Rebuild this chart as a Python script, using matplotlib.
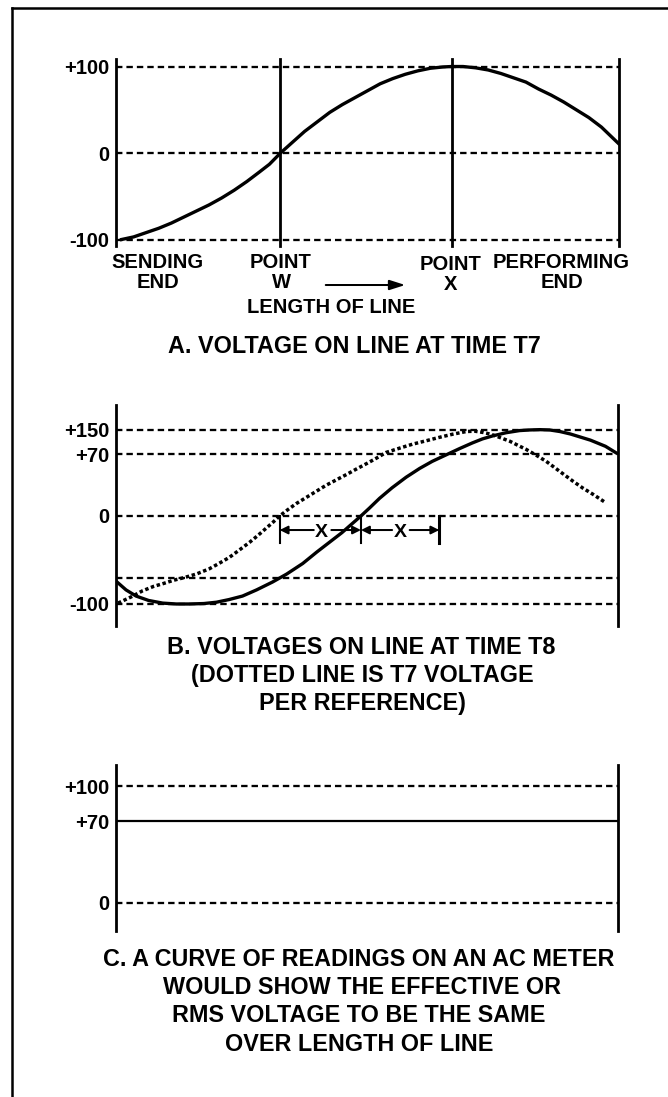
import numpy as np
import matplotlib
matplotlib.use('Agg')
import matplotlib.pyplot as plt
from matplotlib.lines import Line2D

plt.rcParams['font.family'] = ['Liberation Sans', 'DejaVu Sans']
plt.rcParams['font.weight'] = 'bold'

W, H = 668, 1097

# length along the line: 0 = sending end, 100 = performing end
# A. voltage at time T7
len_a = [1.1, 3.5, 6.0, 8.5, 11.0, 13.5, 16.0, 18.5, 21.0, 23.5, 26.0, 28.5, 30.5, 32.7,
         35.0, 37.5, 40.0, 42.5, 45.0, 47.5, 50.0, 52.5, 55.0, 57.5, 60.0, 62.5, 65.0, 66.7,
         69.0, 71.5, 74.0, 76.5, 79.0, 81.5, 84.0, 86.5, 89.0, 91.5, 94.0, 96.5, 99.9]
volt_a = [-100, -97, -92, -87, -81, -74, -67, -60, -52, -43, -33, -22, -13, 0,
          12, 25, 36, 47, 56, 64, 72, 80, 86, 91, 95, 98, 99.5, 100,
          100, 98.5, 96, 92, 87, 82, 74, 67, 59, 50, 41, 30, 11]
point_w = 32.7
point_x = 66.7
levels_a = [100, 0, -100]
ticklabels_a = ['+100', '0', '-100']

# B. voltage at time T8 (solid) and T7 reference (dotted)
len_t8 = [0, 2, 4, 6.5, 9.3, 12, 14.6, 17.5, 20, 22.5, 25.2, 28, 31.2, 34, 37.2, 40, 42.5,
          45, 47.8, 48.8, 50.5, 52.5, 55, 57.8, 60.5, 63, 66, 68.5, 71, 73, 75.1, 77.7,
          80.4, 82.4, 84.4, 86.4, 88.4, 90.5, 92.3, 94.5, 96.3, 97.5, 99.6]
volt_t8 = [-74, -84, -91, -96, -99, -100, -100, -99.5, -98, -95, -91, -84, -75, -66, -54,
           -41, -30, -19, -5, 0, 9, 20, 32, 44, 54, 62, 70, 89, 107, 120, 130, 140,
           147, 149, 150, 149, 144, 136, 127, 116, 104, 96, 75]
len_t7 = [0.4, 3, 5.3, 7.5, 9.3, 11.5, 13.6, 16, 18.6, 20.5, 22.6, 24.5, 26.6, 28.3, 29.9,
          31.3, 32.6, 34.2, 35.9, 37.9, 39.9, 41.9, 43.9, 45.9, 47.8, 50.1, 52, 53.8, 56.5,
          59.1, 61.8, 64.4, 67, 69.8, 71.5, 73.1, 74.7, 76.4, 78.5, 80.2, 81.7, 83.7, 85.7,
          88.3, 90.9, 92.9, 94.9, 97.3]
volt_t7 = [-99, -92, -85, -80, -77, -73, -70, -66, -60, -54, -47, -39, -30, -22, -14,
           -7, 0, 7, 14, 21, 28, 35, 41, 47, 53, 60, 66, 76, 90,
           103, 114, 125, 135, 144, 145, 141, 135, 125, 112, 98, 86, 69, 62,
           51, 40, 32, 25, 16]
levels_b = [150, 70, 0, -70, -100]
ticks_b = [150, 70, 0, -100]
ticklabels_b = ['+150', '+70', '0', '-100']
shift_marks = [32.6, 48.8, 64.4]          # zero crossings T7, T8 and one more X
shift_label_pos = [41.0, 56.6]

# C. rms reading
rms_level = 70
levels_c = [100, 0]
ticks_c = [100, 70, 0]
ticklabels_c = ['+100', '+70', '0']

fig = plt.figure(figsize=(W / 100, H / 100), dpi=100)

def add_panel(x0, y0, x1, y1):
    return fig.add_axes([x0 / W, 1 - y1 / H, (x1 - x0) / W, (y1 - y0) / H])

def ftext(x, y, s, size=14.5, ha='center'):
    fig.text(x / W, 1 - y / H, s, fontsize=size, ha=ha, va='baseline', fontweight='bold')

dash = dict(color='black', lw=1.65, linestyle=(0, (2.8, 1.75)))
vline = dict(color='black', lw=2.0, clip_on=False)
curve = dict(color='black', lw=2.4, solid_joinstyle='round')

def style(ax, ticks, labels):
    ax.set_xlim(0, 100)
    ax.set_xticks([])
    ax.set_yticks(ticks)
    ax.set_yticklabels(labels)
    ax.yaxis.set_minor_locator(plt.NullLocator())
    ax.tick_params(axis='y', length=0, pad=5, labelsize=14.5)
    for s in ax.spines.values():
        s.set_visible(False)
    ax.patch.set_alpha(0)

# frame
fig.add_artist(Line2D([12 / W, 1], [1 - 8 / H, 1 - 8 / H], color='black', lw=1.8))
fig.add_artist(Line2D([12 / W, 12 / W], [0, 1 - 8 / H], color='black', lw=1.8))

# ---- panel A
ax = add_panel(116, 59, 619, 246)
ax.set_ylim(-107.5, 108.7)
style(ax, levels_a, ticklabels_a)
for lv in levels_a:
    ax.axhline(lv, **dash)
for xv in [0, point_w, point_x, 100]:
    ax.axvline(xv, **vline)
ax.plot(len_a, volt_a, **curve)
ax.annotate('', xy=(57.5, -152.6), xytext=(41.7, -152.6), annotation_clip=False,
            arrowprops=dict(arrowstyle='-|>,head_length=0.47,head_width=0.15',
                            mutation_scale=20, color='black', lw=1.45,
                            shrinkA=0, shrinkB=0))

ftext(157.5, 268, 'SENDING')
ftext(157.5, 288, 'END')
ftext(281, 268, 'POINT')
ftext(281, 288, 'W')
ftext(451, 270, 'POINT')
ftext(451, 290, 'X')
ftext(561.5, 268, 'PERFORMING')
ftext(561.5, 288, 'END')
ftext(331, 313, 'LENGTH OF LINE')
ftext(354, 353, 'A. VOLTAGE ON LINE AT TIME T7', size=16.8)

# ---- panel B (schematic scale: compressed above +70)
K = 0.35

def fwd(v):
    v = np.asarray(v, float)
    return np.where(v > 70, 70 + (v - 70) * K, v)

def inv(p):
    p = np.asarray(p, float)
    return np.where(p > 70, 70 + (p - 70) / K, p)

ax = add_panel(116, 405, 618, 626)
ax.set_yscale('function', functions=(fwd, inv))
ax.set_ylim(-125, 230)
style(ax, ticks_b, ticklabels_b)
for lv in levels_b:
    ax.axhline(lv, **dash)
for xv in [0, 100]:
    ax.axvline(xv, **vline)
ax.plot(len_t7, volt_t7, color='black', lw=2.5, linestyle=(0, (1, 0.75)),
        dash_capstyle='butt')
ax.plot(len_t8, volt_t8, **curve)
for i, xm in enumerate(shift_marks):
    ax.plot([xm, xm], [0, -31], color='black', lw=2.2 if i == 2 else 1.5)
arr = dict(arrowstyle='-|>', mutation_scale=12, color='black', lw=1.45, shrinkA=0, shrinkB=0)
for xl, left, right in zip(shift_label_pos, shift_marks[:-1], shift_marks[1:]):
    ax.text(xl, -23.5, 'X', ha='center', va='baseline', fontsize=14, fontweight='bold')
    ax.annotate('', xy=(left, -16), xytext=(xl - 1.6, -16), arrowprops=arr)
    ax.annotate('', xy=(right, -16), xytext=(xl + 1.9, -16), arrowprops=arr)

ftext(361, 654, 'B. VOLTAGES ON LINE AT TIME T8', size=16.8)
ftext(362, 682, '(DOTTED LINE IS T7 VOLTAGE', size=16.8)
ftext(362, 710, 'PER REFERENCE)', size=16.8)

# ---- panel C
ax = add_panel(116, 765, 618, 931)
ax.set_ylim(-24, 118)
style(ax, ticks_c, ticklabels_c)
for lv in levels_c:
    ax.axhline(lv, **dash)
for xv in [0, 100]:
    ax.axvline(xv, **vline)
ax.plot([0, 100], [rms_level, rms_level], color='black', lw=1.6)

ftext(359, 966, 'C. A CURVE OF READINGS ON AN AC METER', size=16.8)
ftext(362, 994, 'WOULD SHOW THE EFFECTIVE OR', size=16.8)
ftext(359, 1022.5, 'RMS VOLTAGE TO BE THE SAME', size=16.8)
ftext(359, 1051, 'OVER LENGTH OF LINE', size=16.8)

fig.savefig('out.png', dpi=100)
